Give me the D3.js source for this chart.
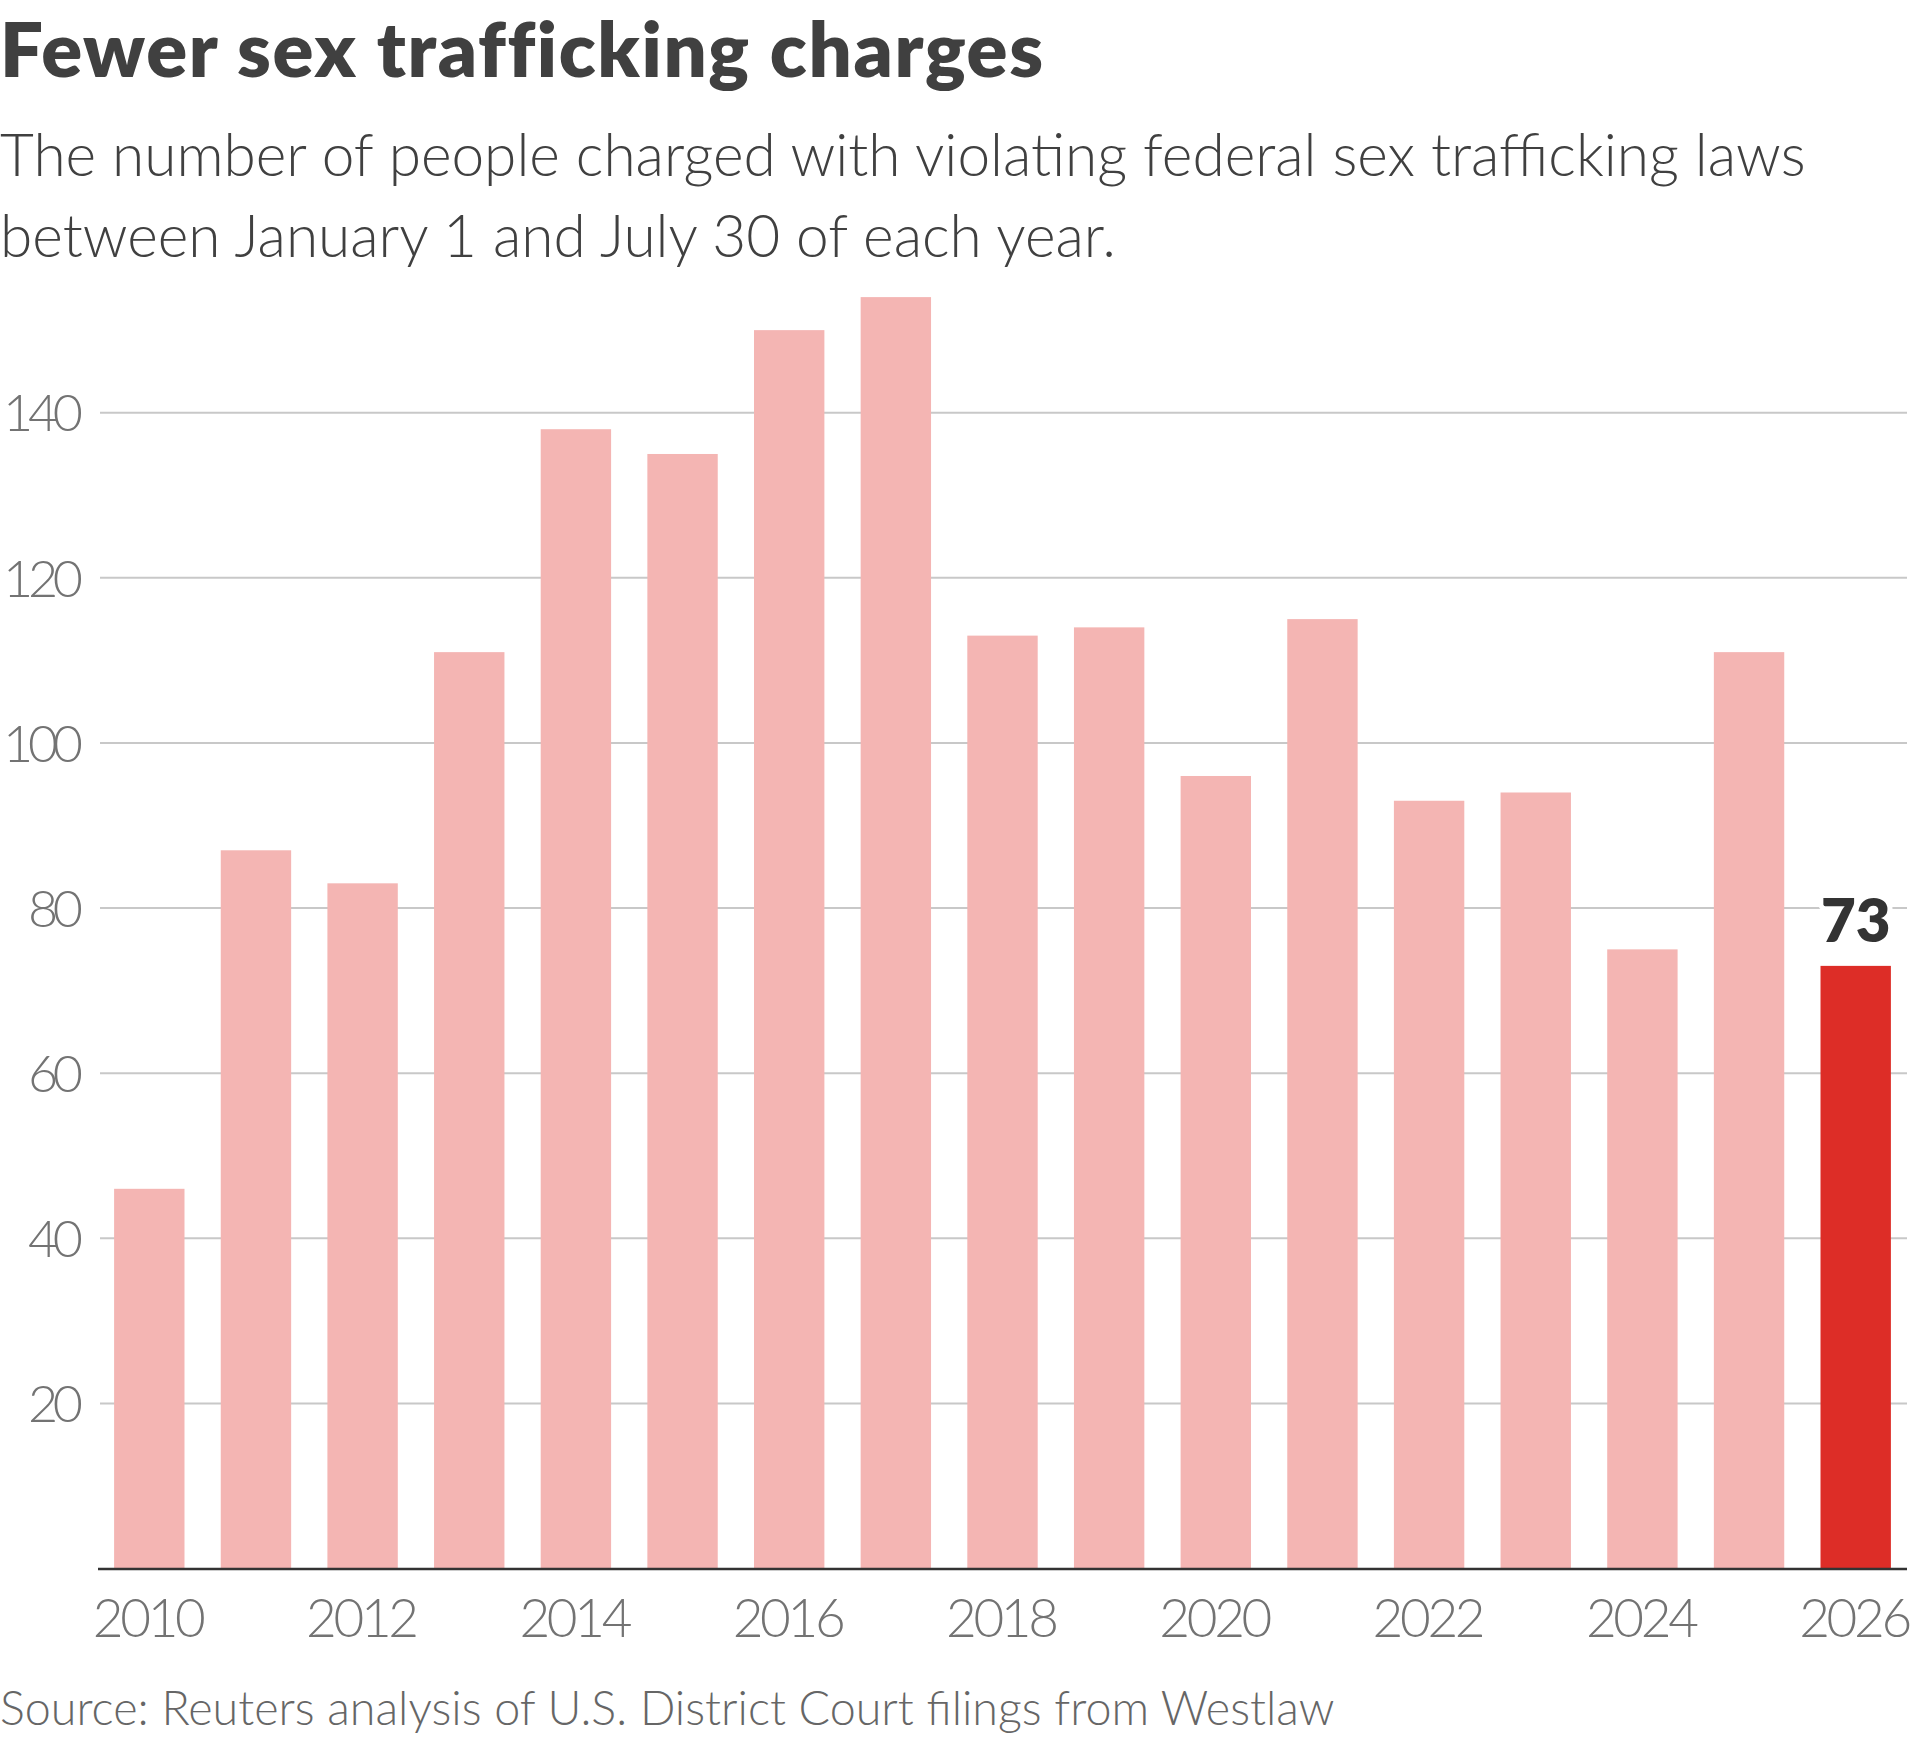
<!DOCTYPE html>
<html>
<head>
<meta charset="utf-8">
<script src="https://cdn.jsdelivr.net/npm/d3@7/dist/d3.min.js"></script>
<style>
  html, body { margin: 0; padding: 0; background: #ffffff; }
  svg { display: block; }
</style>
</head>
<body>
<svg id="chart" width="1920" height="1747"></svg>
<script>
// ---- data ----
const years = ["2010","2011","2012","2013","2014","2015","2016","2017","2018",
               "2019","2020","2021","2022","2023","2024","2025","2026"];
const charges = [46, 87, 83, 111, 138, 135, 150, 154, 113, 114, 96, 115, 93, 94, 75, 111, 73];
const highlightYear = "2026";
const yTickValues = [20, 40, 60, 80, 100, 120, 140];
const xTickLabels = ["2010","2012","2014","2016","2018","2020","2022","2024","2026"];
const titleText = "Fewer sex trafficking charges";
const subtitleLines = ["The number of people charged with violating federal sex trafficking laws",
                       "between January 1 and July 30 of each year."];
const sourceText = "Source: Reuters analysis of U.S. District Court filings from Westlaw";

// ---- setup ----
const svg = d3.select("#chart");
const FONT = "Lato, 'Noto Sans', sans-serif";
const pink = "#f4b5b3", red = "#dd2d27", dark = "#404040", grey = "#737373";

function fit(sel, target) {
  const w = sel.node().getComputedTextLength();
  const fs = parseFloat(sel.attr("font-size"));
  const nfs = fs * target / w;
  sel.attr("font-size", nfs);
  return nfs;
}
function spacingFor(sel, target) {
  const w = sel.node().getComputedTextLength();
  const n = sel.text().length;
  return (target - w) / (n - 1);
}

const x = d3.scaleBand().domain(years).range([98, 1907]).paddingInner(0.34).paddingOuter(0.151);
const y = d3.scaleLinear().domain([0, 140]).range([1568.6, 412.7]);

// title
const title = svg.append("text").attr("x", 0).attr("y", 77)
  .attr("font-family", FONT).attr("font-weight", 800).attr("font-size", 76)
  .attr("fill", dark).text(titleText);
title.attr("letter-spacing", spacingFor(title, 1040));

// subtitle
const sub = svg.append("g").attr("font-family", FONT).attr("font-weight", 300).attr("fill", dark);
const s1 = sub.append("text").attr("x", 0).attr("y", 176).attr("font-size", 52).text(subtitleLines[0]);
const subFs = fit(s1, 1806);
sub.append("text").attr("x", 0).attr("y", 257).attr("font-size", subFs).text(subtitleLines[1]);

// gridlines
svg.append("g").selectAll("line").data(yTickValues).join("line")
  .attr("x1", 100).attr("x2", 1907)
  .attr("y1", d => y(d)).attr("y2", d => y(d))
  .attr("stroke", "#c8c8c8").attr("stroke-width", 2);

// y labels
const yl = svg.append("g").attr("font-family", FONT).attr("font-weight", 300).attr("fill", grey);
const yLabels = yl.selectAll("text").data(yTickValues).join("text")
  .attr("x", 83).attr("y", d => y(d)).attr("dy", "0.36em")
  .attr("text-anchor", "end").attr("font-size", 52).text(d => d);
const ySp = spacingFor(yLabels.filter(d => d === 140), 80);
yLabels.attr("letter-spacing", ySp).attr("x", 83 + ySp);

// bars
svg.append("g").selectAll("rect").data(years).join("rect")
  .attr("x", d => x(d)).attr("width", x.bandwidth())
  .attr("y", (d, i) => y(charges[i]))
  .attr("height", (d, i) => y(0) - y(charges[i]))
  .attr("fill", d => d === highlightYear ? red : pink);

// axis baseline
svg.append("line").attr("x1", 98).attr("x2", 1907)
  .attr("y1", y(0) + 0.5).attr("y2", y(0) + 0.5)
  .attr("stroke", "#333333").attr("stroke-width", 2.5);

// x labels
const xl = svg.append("g").attr("font-family", FONT).attr("font-weight", 300).attr("fill", grey);
const xLabels = xl.selectAll("text").data(xTickLabels).join("text")
  .attr("y", 1637).attr("text-anchor", "middle").attr("font-size", 53).text(d => d);
const xSp = spacingFor(xLabels.filter(d => d === "2010"), 113);
xLabels.attr("letter-spacing", xSp)
  .attr("x", d => x(d) + x.bandwidth() / 2 + xSp / 2);

// value label for highlight
const hi = years.indexOf(highlightYear);
svg.append("text")
  .attr("x", x(highlightYear) + x.bandwidth() / 2).attr("y", 942)
  .attr("text-anchor", "middle").attr("font-family", FONT).attr("font-weight", 800)
  .attr("font-size", 60).attr("fill", "#333333")
  .attr("stroke", "#ffffff").attr("stroke-width", 10).attr("paint-order", "stroke")
  .attr("stroke-linejoin", "round")
  .text(charges[hi]);

// source
const src = svg.append("text").attr("x", 0).attr("y", 1725)
  .attr("font-family", FONT).attr("font-weight", 300).attr("font-size", 40)
  .attr("fill", "#666666").text(sourceText);
fit(src, 1335);
</script>
</body>
</html>
